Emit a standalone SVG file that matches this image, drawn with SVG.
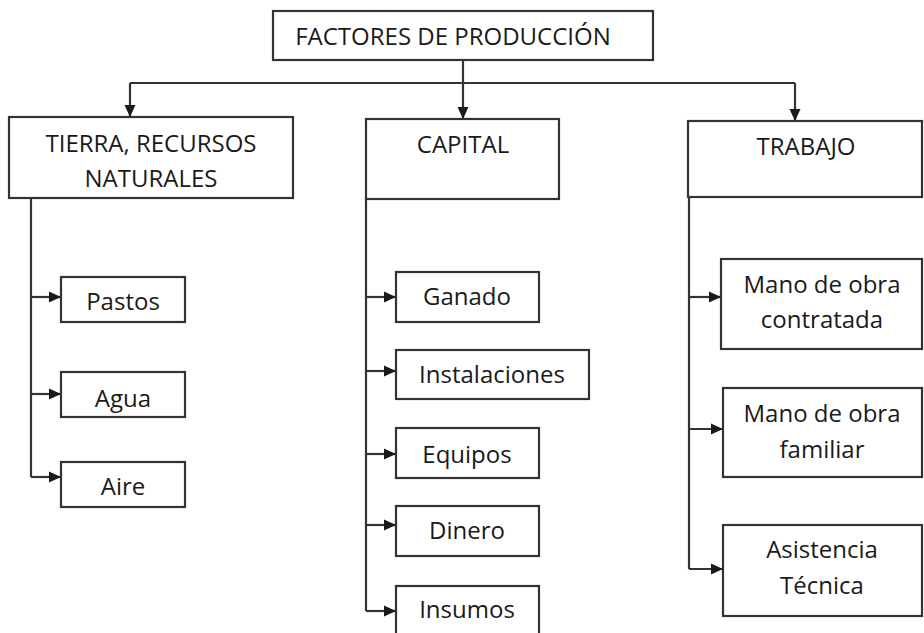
<svg xmlns="http://www.w3.org/2000/svg" width="924" height="633" viewBox="0 0 924 633">
<defs>
<marker id="arr" markerUnits="userSpaceOnUse" markerWidth="12" markerHeight="12" refX="12" refY="6" orient="auto">
<path d="M0,0.5 L12,6 L0,11.5 z" fill="#1a1a1a"/>
</marker>
<style>
rect{fill:#fff;stroke:#333;stroke-width:2.2}
text{font-family:"Open Sans","Noto Sans","Liberation Sans",sans-serif;font-size:24px;fill:#1a1a1a;text-anchor:middle}
.c{fill:none;stroke:#333;stroke-width:2.2}
</style>
</defs>
<rect width="924" height="633" style="fill:#fff;stroke:none"/>
<g id="connectors">
<path class="c" d="M463,60 V119" marker-end="url(#arr)"/>
<path class="c" d="M130,83 H795"/>
<path class="c" d="M130,83 V117" marker-end="url(#arr)"/>
<path class="c" d="M795,83 V121" marker-end="url(#arr)"/>
<path class="c" d="M31,198 V477"/>
<path class="c" d="M31,297 H61" marker-end="url(#arr)"/>
<path class="c" d="M31,394 H61" marker-end="url(#arr)"/>
<path class="c" d="M31,477 H61" marker-end="url(#arr)"/>
<path class="c" d="M366,199 V611"/>
<path class="c" d="M366,297 H396" marker-end="url(#arr)"/>
<path class="c" d="M366,371 H396" marker-end="url(#arr)"/>
<path class="c" d="M366,454 H396" marker-end="url(#arr)"/>
<path class="c" d="M366,525 H396" marker-end="url(#arr)"/>
<path class="c" d="M366,611 H396" marker-end="url(#arr)"/>
<path class="c" d="M689,197 V569"/>
<path class="c" d="M689,297 H721" marker-end="url(#arr)"/>
<path class="c" d="M689,429 H723" marker-end="url(#arr)"/>
<path class="c" d="M689,569 H723" marker-end="url(#arr)"/>
</g>
<g id="factores"><rect x="273" y="11" width="380" height="49"/><text x="453" y="45">FACTORES DE PRODUCCIÓN</text></g>
<g id="tierra"><rect x="9" y="117" width="284" height="81"/><text x="151" y="152">TIERRA, RECURSOS</text><text x="151" y="187">NATURALES</text></g>
<g id="capital"><rect x="366" y="119" width="193" height="80"/><text x="463" y="153">CAPITAL</text></g>
<g id="trabajo"><rect x="688" y="121" width="234" height="76"/><text x="806" y="155">TRABAJO</text></g>
<g id="pastos"><rect x="61" y="277" width="124" height="45"/><text x="123" y="310">Pastos</text></g>
<g id="agua"><rect x="61" y="372" width="124" height="45"/><text x="123" y="407">Agua</text></g>
<g id="aire"><rect x="61" y="462" width="124" height="45"/><text x="123" y="495">Aire</text></g>
<g id="ganado"><rect x="396" y="272" width="143" height="50"/><text x="467" y="305">Ganado</text></g>
<g id="instalaciones"><rect x="396" y="350" width="193" height="49"/><text x="492" y="383">Instalaciones</text></g>
<g id="equipos"><rect x="396" y="428" width="143" height="50"/><text x="467" y="463">Equipos</text></g>
<g id="dinero"><rect x="396" y="506" width="143" height="50"/><text x="467" y="539">Dinero</text></g>
<g id="insumos"><rect x="396" y="586" width="143" height="60"/><text x="467" y="618">Insumos</text></g>
<g id="contratada"><rect x="721" y="259" width="201" height="90"/><text x="822" y="293">Mano de obra</text><text x="822" y="328">contratada</text></g>
<g id="familiar"><rect x="723" y="388" width="199" height="89"/><text x="822" y="422">Mano de obra</text><text x="822" y="458">familiar</text></g>
<g id="asistencia"><rect x="723" y="525" width="199" height="91"/><text x="822" y="558">Asistencia</text><text x="822" y="594">Técnica</text></g>
</svg>
